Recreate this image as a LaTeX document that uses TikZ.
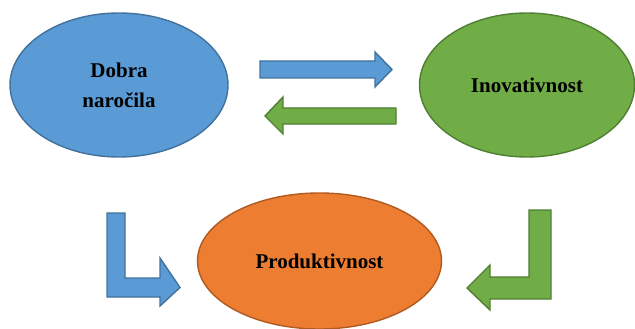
\documentclass[tikz,border=0pt]{standalone}
\usepackage{fontspec}
\setmainfont{Liberation Serif}
\usetikzlibrary{shapes.geometric}
\definecolor{blueFill}{HTML}{5B9BD5}
\definecolor{blueLine}{HTML}{41719C}
\definecolor{greenFill}{HTML}{70AD47}
\definecolor{greenLine}{HTML}{507E32}
\definecolor{orangeFill}{HTML}{ED7D31}
\definecolor{orangeLine}{HTML}{AE5A21}
\begin{document}
\begin{tikzpicture}[x=1pt,y=-1pt,
  bubble/.style={ellipse, draw, line width=1.4pt, inner sep=0pt,
    font=\fontsize{21}{30}\selectfont\bfseries, align=center},
  bluearrow/.style={fill=blueFill, draw=blueLine, line width=1.4pt, line join=miter},
  greenarrow/.style={fill=greenFill, draw=greenLine, line width=1.4pt, line join=miter}]
\useasboundingbox (0,0) rectangle (635,329);

% the three ellipses
\node[bubble, fill=blueFill, draw=blueLine, minimum width=218pt, minimum height=144pt]
  (dobra) at (119,85) {Dobra\\naročila};
\node[bubble, fill=greenFill, draw=greenLine, minimum width=215pt, minimum height=144pt]
  (inov) at (527,85) {Inovativnost};
\node[bubble, fill=orangeFill, draw=orangeLine, minimum width=244pt, minimum height=136pt]
  (prod) at (319.5,261) {Produktivnost};

% straight block arrows between the upper ellipses
\draw[bluearrow] (260,61) -- (375,61) -- (375,52) -- (392,69.5) -- (375,87)
  -- (375,78) -- (260,78) -- cycle;
\draw[greenarrow] (396,108) -- (283,108) -- (283,97) -- (265,116) -- (283,134)
  -- (283,124) -- (396,124) -- cycle;

% bent block arrows towards the lower ellipse
\draw[bluearrow] (107,213) -- (125,213) -- (125,278) -- (160,278) -- (160,258)
  -- (180,287.5) -- (160,306) -- (160,297) -- (107,297) -- cycle;
\draw[greenarrow] (551,210) -- (529,210) -- (529,277) -- (490,277) -- (490,265)
  -- (467,288) -- (490,310) -- (490,299) -- (551,299) -- cycle;
\end{tikzpicture}
\end{document}
